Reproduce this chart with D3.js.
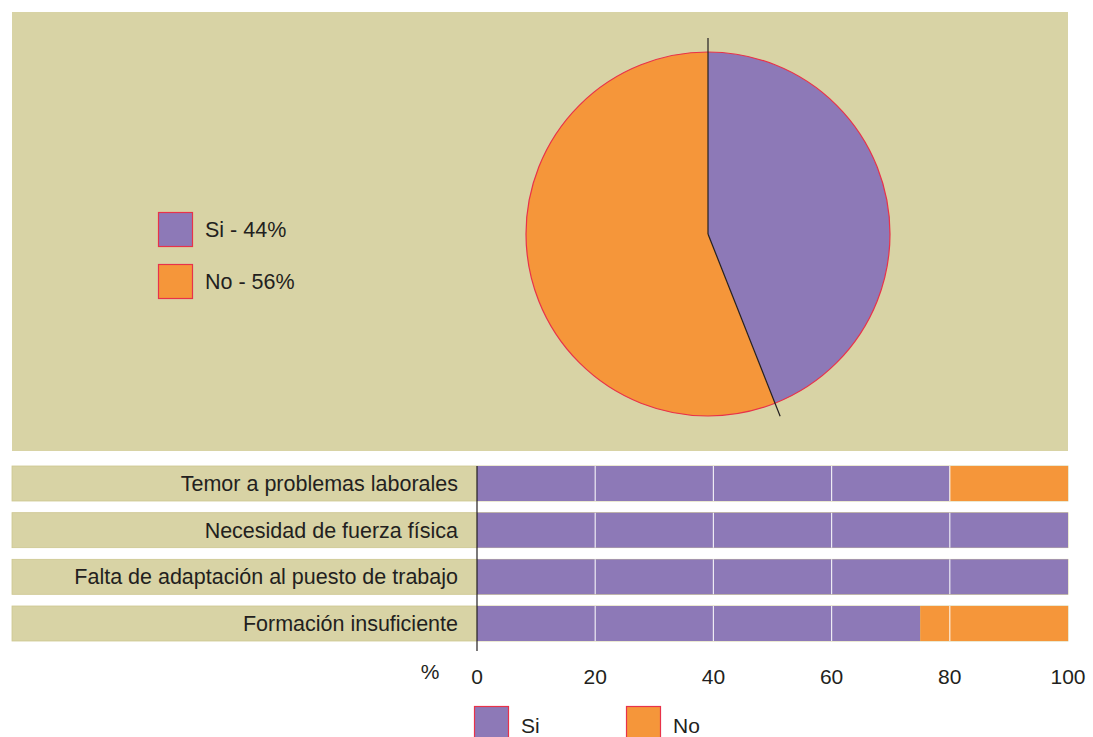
<!DOCTYPE html>
<html><head><meta charset="utf-8">
<script src="https://cdn.jsdelivr.net/npm/d3@7"></script>
<style>html,body{margin:0;padding:0;background:#fff;}svg{display:block;font-family:"Liberation Sans",Arial,sans-serif;}</style>
</head><body>
<svg id="c" width="1093" height="737"></svg>
<script>
const pieLabels = ["Si - 44%", "No - 56%"];
const pieValues = [44, 56];
const categories = ["Temor a problemas laborales", "Necesidad de fuerza física", "Falta de adaptación al puesto de trabajo", "Formación insuficiente"];
const siValues = [80, 100, 100, 75];
const noValues = [20, 0, 0, 25];
const seriesNames = ["Si", "No"];
const xTicks = [0, 20, 40, 60, 80, 100];

const PURPLE = "#8d79b7", ORANGE = "#f5963a", BEIGE = "#d8d3a5", RED = "#e8324a", TXT = "#231f20";
const colors = [PURPLE, ORANGE];
const svg = d3.select("#c");

// top panel
svg.append("rect").attr("x", 12).attr("y", 12).attr("width", 1056).attr("height", 439).attr("fill", BEIGE);

// pie
const cx = 708, cy = 234, R = 182;
const pie = d3.pie().sort(null).value(d => d)(pieValues);
const arc = d3.arc().innerRadius(0).outerRadius(R);
const g = svg.append("g").attr("transform", `translate(${cx},${cy})`);
g.selectAll("path.s").data(pie).join("path").attr("class", "s")
  .attr("d", arc).attr("fill", (d, i) => colors[i]).attr("stroke", "none");
g.append("circle").attr("r", R).attr("fill", "none").attr("stroke", RED).attr("stroke-width", 1.2);
const a1 = pie[0].endAngle, rl = 196;
g.append("line").attr("x1", 0).attr("y1", -rl).attr("x2", 0).attr("y2", 0).attr("stroke", "#231f20").attr("stroke-width", 1.2);
g.append("line").attr("x1", 0).attr("y1", 0).attr("x2", rl * Math.sin(a1)).attr("y2", -rl * Math.cos(a1)).attr("stroke", "#231f20").attr("stroke-width", 1.2);

// pie legend
pieLabels.forEach((l, i) => {
  const y = 212 + i * 52;
  svg.append("rect").attr("x", 158.5).attr("y", y + 0.5).attr("width", 34).attr("height", 34)
    .attr("fill", colors[i]).attr("stroke", RED).attr("stroke-width", 1.2);
  svg.append("text").attr("x", 205).attr("y", y + 25).attr("font-size", 21.5).attr("fill", TXT).text(l);
});

// bar chart
const x = d3.scaleLinear().domain([0, 100]).range([477, 1068]);
const y = d3.scaleBand().domain(categories).range([466, 641]).paddingInner(0.25).paddingOuter(0);
svg.selectAll("rect.lbl").data(categories).join("rect").attr("class", "lbl")
  .attr("x", 12).attr("y", d => y(d)).attr("width", 1056).attr("height", y.bandwidth())
  .attr("fill", BEIGE).attr("stroke", "#cdc790").attr("stroke-width", 0.8);
svg.selectAll("text.lbl").data(categories).join("text").attr("class", "lbl")
  .attr("x", 458).attr("y", d => y(d) + y.bandwidth() / 2 + 7.5).attr("text-anchor", "end")
  .attr("font-size", 21.5).attr("fill", TXT).text(d => d);
svg.selectAll("rect.si").data(categories).join("rect").attr("class", "si")
  .attr("x", x(0)).attr("y", d => y(d)).attr("width", (d, i) => x(siValues[i]) - x(0)).attr("height", y.bandwidth()).attr("fill", PURPLE);
svg.selectAll("rect.no").data(categories).join("rect").attr("class", "no")
  .attr("x", (d, i) => x(siValues[i])).attr("y", d => y(d)).attr("width", (d, i) => x(siValues[i] + noValues[i]) - x(siValues[i])).attr("height", y.bandwidth()).attr("fill", ORANGE);
categories.forEach(c => {
  [20, 40, 60, 80].forEach(t => {
    svg.append("line").attr("x1", x(t)).attr("x2", x(t)).attr("y1", y(c)).attr("y2", y(c) + y.bandwidth())
      .attr("stroke", "#fff").attr("stroke-width", 1.2).attr("opacity", 0.85);
  });
});
svg.append("line").attr("x1", x(0)).attr("x2", x(0)).attr("y1", 466).attr("y2", 651).attr("stroke", TXT).attr("stroke-width", 1.2);
svg.selectAll("text.tick").data(xTicks).join("text").attr("class", "tick")
  .attr("x", d => x(d)).attr("y", 684).attr("text-anchor", "middle").attr("font-size", 21).attr("fill", TXT).text(d => d);
svg.append("text").attr("x", 430).attr("y", 679).attr("text-anchor", "middle").attr("font-size", 21).attr("fill", TXT).text("%");

// bottom legend
seriesNames.forEach((s, i) => {
  const lx = 474 + i * 152;
  svg.append("rect").attr("x", lx + 0.5).attr("y", 706.5).attr("width", 34).attr("height", 34)
    .attr("fill", colors[i]).attr("stroke", RED).attr("stroke-width", 1.2);
  svg.append("text").attr("x", lx + 47).attr("y", 733).attr("font-size", 21).attr("fill", TXT).text(s);
});
</script>
</body></html>
